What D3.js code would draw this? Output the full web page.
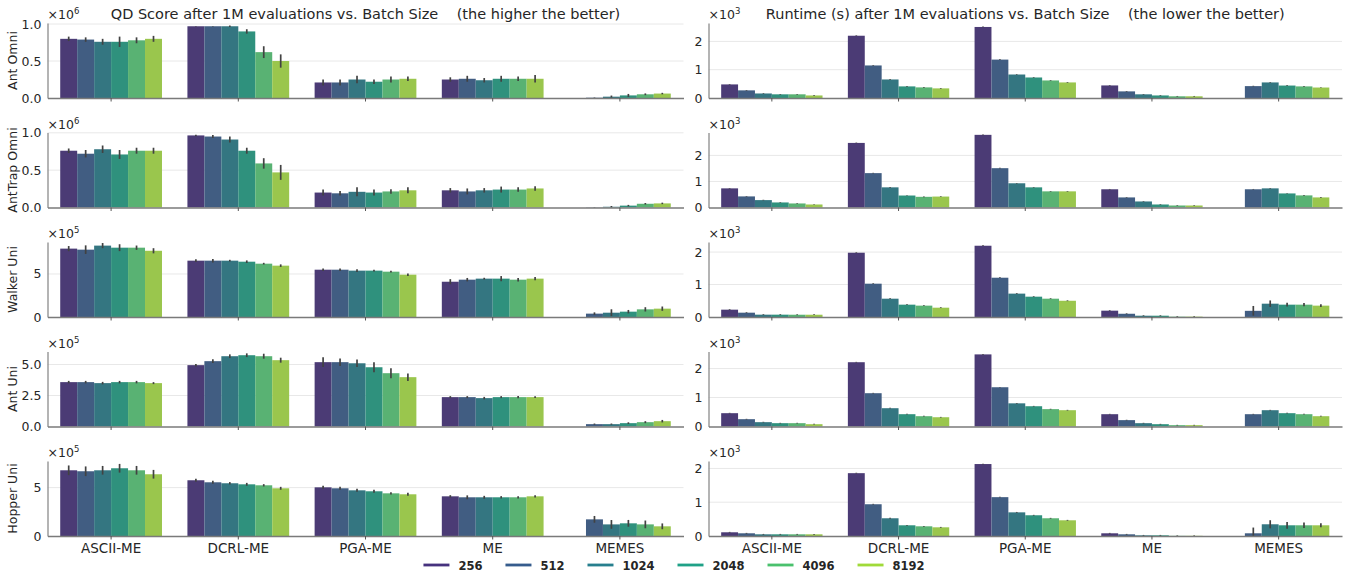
<!DOCTYPE html>
<html>
<head>
<meta charset="utf-8">
<script src="https://cdn.jsdelivr.net/npm/d3@7"></script>
<style>
  body { margin: 0; background: #fff; }
  text { font-family: "DejaVu Sans", sans-serif; fill: #262626; }
</style>
</head>
<body>
<svg id="chart" width="1348" height="573"></svg>
<script>
var categories = ["ASCII-ME", "DCRL-ME", "PGA-ME", "ME", "MEMES"];
var batchSizes = ["256", "512", "1024", "2048", "4096", "8192"];
var envs = ["Ant Omni", "AntTrap Omni", "Walker Uni", "Ant Uni", "Hopper Uni"];

// QD score, in units of the offset shown on each axis (x10^6 or x10^5)
// one row per algorithm, one value per batch size; null = not run
var qdAntOmni = [
  [0.80, 0.79, 0.76, 0.76, 0.78, 0.80],
  [0.97, 0.97, 0.97, 0.90, 0.62, 0.50],
  [0.21, 0.21, 0.25, 0.22, 0.25, 0.26],
  [0.25, 0.26, 0.24, 0.26, 0.26, 0.26],
  [null, 0.004, 0.018, 0.035, 0.05, 0.06]
];
var qdAntOmniErr = [
  [0.03, 0.03, 0.04, 0.07, 0.04, 0.04],
  [0.005, 0.005, 0.01, 0.03, 0.08, 0.09],
  [0.04, 0.04, 0.05, 0.03, 0.04, 0.03],
  [0.03, 0.04, 0.03, 0.04, 0.03, 0.05],
  [null, 0.003, 0.015, 0.02, 0.012, 0.01]
];
var qdAntTrap = [
  [0.76, 0.72, 0.78, 0.71, 0.76, 0.76],
  [0.965, 0.95, 0.91, 0.76, 0.59, 0.47],
  [0.20, 0.19, 0.21, 0.20, 0.215, 0.23],
  [0.23, 0.215, 0.23, 0.24, 0.24, 0.255],
  [null, 0.003, 0.01, 0.025, 0.05, 0.055]
];
var qdAntTrapErr = [
  [0.03, 0.05, 0.05, 0.06, 0.04, 0.04],
  [0.01, 0.02, 0.04, 0.04, 0.07, 0.1],
  [0.04, 0.03, 0.06, 0.04, 0.03, 0.04],
  [0.03, 0.04, 0.03, 0.04, 0.03, 0.03],
  [null, 0.003, 0.01, 0.01, 0.01, 0.01]
];
var qdWalker = [
  [7.95, 7.83, 8.30, 8.06, 8.06, 7.70],
  [6.55, 6.55, 6.55, 6.43, 6.20, 5.97],
  [5.50, 5.50, 5.39, 5.39, 5.27, 4.92],
  [4.10, 4.34, 4.46, 4.46, 4.34, 4.46],
  [null, 0.39, 0.50, 0.62, 0.89, 0.97]
];
var qdWalkerErr = [
  [0.3, 0.5, 0.3, 0.4, 0.25, 0.3],
  [0.15, 0.2, 0.1, 0.15, 0.1, 0.15],
  [0.15, 0.15, 0.15, 0.1, 0.1, 0.15],
  [0.3, 0.2, 0.1, 0.3, 0.2, 0.2],
  [null, 0.15, 0.4, 0.2, 0.25, 0.25]
];
var qdAntUni = [
  [3.58, 3.58, 3.50, 3.58, 3.58, 3.50],
  [4.95, 5.27, 5.67, 5.75, 5.67, 5.35],
  [5.19, 5.19, 5.10, 4.78, 4.30, 3.98],
  [2.37, 2.37, 2.29, 2.37, 2.37, 2.37],
  [null, 0.19, 0.19, 0.27, 0.35, 0.43]
];
var qdAntUniErr = [
  [0.1, 0.1, 0.1, 0.1, 0.1, 0.08],
  [0.1, 0.15, 0.15, 0.15, 0.2, 0.2],
  [0.4, 0.3, 0.3, 0.4, 0.4, 0.3],
  [0.08, 0.08, 0.1, 0.08, 0.1, 0.08],
  [null, 0.05, 0.05, 0.07, 0.08, 0.1]
];
var qdHopper = [
  [6.79, 6.69, 6.79, 7.00, 6.79, 6.38],
  [5.76, 5.55, 5.45, 5.34, 5.24, 4.93],
  [5.03, 4.93, 4.72, 4.62, 4.41, 4.31],
  [4.10, 4.00, 4.00, 4.00, 4.00, 4.10],
  [null, 1.72, 1.20, 1.31, 1.20, 1.00]
];
var qdHopperErr = [
  [0.5, 0.5, 0.45, 0.45, 0.45, 0.45],
  [0.15, 0.15, 0.12, 0.15, 0.12, 0.15],
  [0.15, 0.15, 0.15, 0.15, 0.12, 0.15],
  [0.12, 0.2, 0.15, 0.12, 0.12, 0.12],
  [null, 0.35, 0.45, 0.35, 0.4, 0.3]
];

// runtime in thousands of seconds (x10^3 on the axis)
var rtAntOmni = [
  [0.48, 0.27, 0.16, 0.13, 0.13, 0.09],
  [2.20, 1.15, 0.655, 0.41, 0.375, 0.34],
  [2.51, 1.357, 0.83, 0.725, 0.62, 0.55],
  [0.444, 0.234, 0.13, 0.09, 0.06, 0.06],
  [null, 0.42, 0.55, 0.44, 0.41, 0.37]
];
var rtAntTrap = [
  [0.735, 0.426, 0.284, 0.194, 0.155, 0.116],
  [2.48, 1.32, 0.774, 0.46, 0.41, 0.42],
  [2.79, 1.51, 0.93, 0.774, 0.62, 0.62],
  [0.70, 0.387, 0.232, 0.116, 0.077, 0.077],
  [null, 0.70, 0.735, 0.54, 0.465, 0.387]
];
var rtWalker = [
  [0.226, 0.133, 0.072, 0.072, 0.07, 0.07],
  [1.98, 1.026, 0.564, 0.38, 0.35, 0.287],
  [2.195, 1.21, 0.72, 0.626, 0.564, 0.50],
  [0.195, 0.10, 0.04, 0.04, 0.01, 0.01],
  [null, 0.19, 0.41, 0.38, 0.38, 0.35]
];
var rtAntUni = [
  [0.46, 0.253, 0.15, 0.115, 0.115, 0.08],
  [2.22, 1.15, 0.632, 0.425, 0.356, 0.32],
  [2.49, 1.356, 0.80, 0.70, 0.60, 0.563],
  [0.425, 0.22, 0.115, 0.08, 0.046, 0.046],
  [null, 0.425, 0.563, 0.46, 0.425, 0.356]
];
var rtHopper = [
  [0.11, 0.08, 0.05, 0.05, 0.05, 0.05],
  [1.86, 0.94, 0.525, 0.317, 0.287, 0.257],
  [2.13, 1.15, 0.70, 0.614, 0.525, 0.465],
  [0.08, 0.05, 0.02, 0.02, 0.005, 0.005],
  [null, 0.08, 0.347, 0.317, 0.317, 0.317]
];
var rtSmallErr = [0.012, 0.012, 0.012, 0.012, 0.012, 0.012];
var rtMemesWalkerErr = [null, 0.15, 0.1, 0.06, 0.05, 0.04];
var rtMemesHopperErr = [null, 0.17, 0.12, 0.1, 0.08, 0.06];

var qdMeans = [qdAntOmni, qdAntTrap, qdWalker, qdAntUni, qdHopper];
var qdErrs = [qdAntOmniErr, qdAntTrapErr, qdWalkerErr, qdAntUniErr, qdHopperErr];
var qdExp = ["6", "6", "5", "5", "5"];
var qdTicks = [[0, 0.5, 1], [0, 0.5, 1], [0, 5], [0, 2.5, 5], [0, 5]];
var qdYMax = [1.014, 1.004, 8.72, 6.05, 7.75];

var rtMeans = [rtAntOmni, rtAntTrap, rtWalker, rtAntUni, rtHopper];
var rtTicks = [0, 1, 2];
var rtYMax = [2.65, 2.88, 2.31, 2.59, 2.22];

function rtErrs(i) {
  return categories.map(function(c, j) {
    if (j === 4 && i === 2) return rtMemesWalkerErr;
    if (j === 4 && i === 4) return rtMemesHopperErr;
    return rtSmallErr;
  });
}

var svg = d3.select("#chart");

var palette = batchSizes.map(function(d, i) {
  return d3.interpolateViridis((i + 1) / (batchSizes.length + 1));
});
// seaborn bars are drawn at 0.75 saturation
var barColors = palette.map(function(c) {
  var h = d3.hsl(c);
  h.s *= 0.75;
  return h.formatHex();
});

var cols = [[47.5, 683.5], [708.5, 1342]];
var rowTop = 23, rowStep = 109.5, rowH = 75;

function drawPanel(g, xr, top, means, errs, yMax, ticks, tickFmt, exp, showLabels) {
  var bottom = top + rowH;
  var x = d3.scaleBand().domain(categories).range(xr).paddingInner(0.2).paddingOuter(0.1);
  var xs = d3.scaleBand().domain(batchSizes).range([0, x.bandwidth()]);
  var y = d3.scaleLinear().domain([0, yMax]).range([bottom, top]);

  // grid
  g.append("g").selectAll("line").data(ticks.filter(function(t) { return t > 0; }))
    .enter().append("line")
    .attr("x1", xr[0]).attr("x2", xr[1])
    .attr("y1", function(d) { return y(d); }).attr("y2", function(d) { return y(d); })
    .attr("stroke", "#e8e8e8").attr("stroke-width", 1);

  var groups = g.append("g").selectAll("g").data(categories).enter().append("g")
    .attr("transform", function(d) { return "translate(" + x(d) + ",0)"; });

  var cells = groups.selectAll("g").data(function(c, ci) {
    return batchSizes.map(function(b, bi) {
      return { b: b, bi: bi, v: means[ci][bi], e: errs[ci][bi] };
    }).filter(function(d) { return d.v != null; });
  }).enter().append("g");

  cells.append("rect")
    .attr("x", function(d) { return xs(d.b); })
    .attr("width", xs.bandwidth())
    .attr("y", function(d) { return y(d.v); })
    .attr("height", function(d) { return y(0) - y(d.v); })
    .attr("fill", function(d) { return barColors[d.bi]; });

  cells.append("line")
    .attr("x1", function(d) { return xs(d.b) + xs.bandwidth() / 2; })
    .attr("x2", function(d) { return xs(d.b) + xs.bandwidth() / 2; })
    .attr("y1", function(d) { return y(Math.max(0, d.v - d.e)); })
    .attr("y2", function(d) { return y(d.v + d.e); })
    .attr("stroke", "#424242").attr("stroke-width", 1.7);

  // axes
  var yAxis = d3.axisLeft(y).tickValues(ticks).tickSize(0).tickPadding(6).tickFormat(d3.format(tickFmt));
  g.append("g").attr("transform", "translate(" + xr[0] + ",0)").call(yAxis)
    .call(function(a) {
      a.select(".domain").attr("stroke", "#8c8c8c").attr("stroke-width", 1.3);
      a.selectAll("text").attr("font-size", 12.5).attr("fill", "#262626").attr("font-family", "DejaVu Sans");
    });

  var xAxis = d3.axisBottom(x).tickSize(3.5).tickSizeOuter(0).tickPadding(4);
  if (!showLabels) xAxis.tickFormat("");
  g.append("g").attr("transform", "translate(0," + bottom + ")").call(xAxis)
    .call(function(a) {
      a.select(".domain").attr("stroke", "#7a7a7a").attr("stroke-width", 1.6);
      a.selectAll(".tick line").attr("stroke", "#555");
      a.selectAll("text").attr("font-size", 13.5).attr("fill", "#262626").attr("font-family", "DejaVu Sans");
    });

  // offset text
  var off = g.append("text").attr("x", xr[0]).attr("y", top - 4).attr("font-size", 12.5);
  off.append("tspan").text("\u00d710");
  off.append("tspan").attr("font-size", 8.5).attr("dy", -5).text(exp);
}

envs.forEach(function(env, i) {
  var top = rowTop + i * rowStep;
  var last = i === envs.length - 1;
  drawPanel(svg.append("g"), cols[0], top, qdMeans[i], qdErrs[i], qdYMax[i], qdTicks[i],
    (i === 2 || i === 4) ? "d" : ".1f", qdExp[i], last);
  drawPanel(svg.append("g"), cols[1], top, rtMeans[i], rtErrs(i), rtYMax[i], rtTicks, "d", "3", last);

  svg.append("text")
    .attr("transform", "translate(17," + (top + rowH / 2) + ") rotate(-90)")
    .attr("text-anchor", "middle")
    .attr("font-size", 12.5)
    .text(env);
});

var titles = [
  "QD Score after 1M evaluations vs. Batch Size    (the higher the better)",
  "Runtime (s) after 1M evaluations vs. Batch Size    (the lower the better)"
];
svg.selectAll(".title").data(titles).enter().append("text")
  .attr("class", "title")
  .attr("xml:space", "preserve")
  .style("white-space", "pre")
  .attr("x", function(d, i) { return (cols[i][0] + cols[i][1]) / 2; })
  .attr("y", 19)
  .attr("text-anchor", "middle")
  .attr("font-size", 14.5)
  .text(function(d) { return d; });

// legend
var legend = svg.append("g");
var lx = 0;
batchSizes.forEach(function(b, i) {
  var item = legend.append("g").attr("transform", "translate(" + lx + ",0)");
  item.append("line").attr("x1", 0).attr("x2", 26).attr("y1", 0).attr("y2", 0)
    .attr("stroke", palette[i]).attr("stroke-width", 2.8);
  var t = item.append("text").attr("x", 35).attr("y", 4.5)
    .attr("font-size", 11.5).attr("font-weight", "bold").attr("fill", "#1a1a1a").text(b);
  lx += 35 + t.node().getComputedTextLength() + 23;
});
var legendW = lx - 23;
legend.attr("transform", "translate(" + (1348 / 2 - legendW / 2) + ",565)");
</script>
</body>
</html>
